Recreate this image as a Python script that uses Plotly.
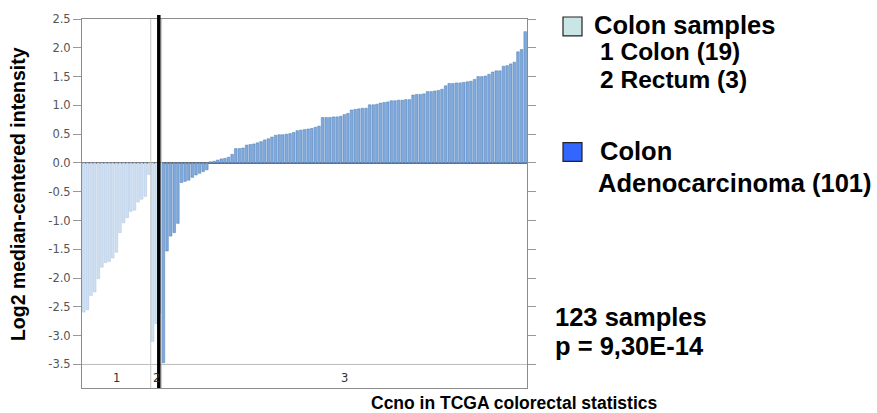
import plotly.graph_objects as go

# ---- data ----
group_labels = ["1", "2", "3"]
colon_values = [-2.59, -2.55, -2.30, -2.24, -2.01, -1.81, -1.73, -1.71, -1.65, -1.55,
                -1.21, -1.04, -0.95, -0.84, -0.82, -0.68, -0.63, -0.58, -0.20]
rectum_values = [-3.10, -2.79, -2.60]
adeno_values = [-3.47, -1.53, -1.27, -1.21, -1.05, -0.34, -0.32, -0.30, -0.25, -0.21,
                -0.18, -0.15, -0.12, 0.02, 0.03, 0.05, 0.07, 0.08, 0.10, 0.15,
                0.25, 0.25, 0.26, 0.31, 0.32, 0.33, 0.35, 0.37, 0.40, 0.42,
                0.45, 0.48, 0.49, 0.49, 0.50, 0.51, 0.53, 0.56, 0.57, 0.58,
                0.59, 0.60, 0.62, 0.64, 0.79, 0.79, 0.79, 0.80, 0.80, 0.81,
                0.84, 0.86, 0.92, 0.93, 0.94, 0.95, 0.95, 1.01, 1.01, 1.02,
                1.04, 1.05, 1.06, 1.08, 1.08, 1.09, 1.09, 1.10, 1.10, 1.18,
                1.19, 1.19, 1.20, 1.24, 1.24, 1.25, 1.26, 1.28, 1.34, 1.38,
                1.38, 1.39, 1.39, 1.40, 1.41, 1.42, 1.45, 1.50, 1.50, 1.51,
                1.54, 1.58, 1.60, 1.60, 1.68, 1.69, 1.72, 1.75, 1.93, 1.97,
                2.28]
y_tick_values = [-3.5, -3.0, -2.5, -2.0, -1.5, -1.0, -0.5, 0.0, 0.5, 1.0, 1.5, 2.0, 2.5]

# ---- layout geometry (pixels) ----
W, H = 877, 413
L, R, T, B = 82, 350, 15, 25
PW, PH = W - L - R, H - T - B


def px(xpix):
    return (xpix - L) / PW


def py(ypix):
    return (H - B - ypix) / PH


light_vals = colon_values + rectum_values
n_light = len(light_vals)
n_total = n_light + len(adeno_values)
x_light = list(range(n_light))
x_adeno = list(range(n_light, n_total))

fig = go.Figure()
fig.add_trace(go.Bar(x=x_light, y=light_vals,
                     marker=dict(color="#cfe0f3", line=dict(color="#a8c0de", width=0.5)),
                     showlegend=False))
fig.add_trace(go.Bar(x=x_adeno, y=adeno_values,
                     marker=dict(color="#7eaadf", line=dict(color="#4f7ab0", width=0.5)),
                     showlegend=False))

shapes = []
# strip separator at -3.5
shapes.append(dict(type="line", xref="paper", yref="y", x0=0, x1=1, y0=-3.5, y1=-3.5,
                   line=dict(color="#bdbdbd", width=1)))
# group separators
bounds = [len(colon_values), n_light]
for b in bounds:
    xp = b / n_total
    shapes.append(dict(type="line", xref="paper", yref="paper", x0=xp, x1=xp, y0=0, y1=1,
                       line=dict(color="#c8c8c8", width=1)))
# thick black marker line
xb = (len(colon_values) + 2.23) / n_total
shapes.append(dict(type="line", xref="paper", yref="paper", x0=xb, x1=xb, y0=0, y1=py(11),
                   line=dict(color="#000000", width=3.5)))
# legend squares
shapes.append(dict(type="rect", xref="paper", yref="paper",
                   x0=px(563), x1=px(582), y0=py(32), y1=py(13),
                   fillcolor="#c9e5e5", line=dict(color="#222", width=1.2)))
shapes.append(dict(type="rect", xref="paper", yref="paper",
                   x0=px(563), x1=px(582), y0=py(159), y1=py(140),
                   fillcolor="#3366ff", line=dict(color="#222", width=1.2)))

ann = []
# group labels in strip
group_sizes = [len(colon_values), len(rectum_values), len(adeno_values)]
start = 0
for lab, n in zip(group_labels, group_sizes):
    c = start + n / 2
    ann.append(dict(x=c / n_total, y=py(378), xref="paper", yref="paper", text=lab,
                    showarrow=False, font=dict(family="DejaVu Sans", size=11.5, color="#333"),
                    xanchor="center", yanchor="middle"))
    start += n

bold = "Liberation Sans"
def txt(t, x, y, size):
    ann.append(dict(x=px(x), y=py(y), xref="paper", yref="paper", text="<b>%s</b>" % t,
                    showarrow=False, font=dict(family=bold, size=size, color="#000"),
                    xanchor="left", yanchor="middle"))

txt("Colon samples", 592, 21, 25.5)
txt("1 Colon (19)", 598, 48, 24.5)
txt("2 Rectum (3)", 598, 76, 24.5)
txt("Colon", 598, 148, 25.5)
txt("Adenocarcinoma (101)", 596, 181, 25.5)
txt("123 samples", 553, 316, 25.5)
txt("p = 9,30E-14", 553, 346, 25.5)

# axis titles
ann.append(dict(x=px(18), y=py(192), xref="paper", yref="paper",
                text="<b>Log2 median-centered intensity</b>", textangle=-90,
                showarrow=False, font=dict(family=bold, size=19.5, color="#000"),
                xanchor="center", yanchor="middle"))
ann.append(dict(x=px(514), y=py(403), xref="paper", yref="paper",
                text="<b>Ccno in TCGA colorectal statistics</b>",
                showarrow=False, font=dict(family=bold, size=17.5, color="#000"),
                xanchor="center", yanchor="middle"))

fig.update_layout(
    width=W, height=H, margin=dict(l=L, r=R, t=T, b=B),
    paper_bgcolor="white", plot_bgcolor="white",
    bargap=0.28, shapes=shapes, annotations=ann,
    xaxis=dict(range=[-0.5, n_total - 0.5], showticklabels=False, ticks="",
               showgrid=False, zeroline=False, showline=True, mirror=True,
               linecolor="#8c8c8c", linewidth=1),
    yaxis=dict(range=[2.5 - PH / 58.2, 2.5], tickvals=y_tick_values,
               ticktext=["%.1f" % v for v in y_tick_values],
               ticks="outside", ticklen=8, tickcolor="#999", mirror="ticks",
               showline=True, linecolor="#8c8c8c", linewidth=1,
               showgrid=False, zeroline=True, zerolinecolor="#6f6f6f", zerolinewidth=1.5,
               tickfont=dict(family="DejaVu Sans", size=11.5, color="#555")),
)

fig.write_html("out.html", config={"displayModeBar": False},
               post_script="document.body.style.margin='0';")
